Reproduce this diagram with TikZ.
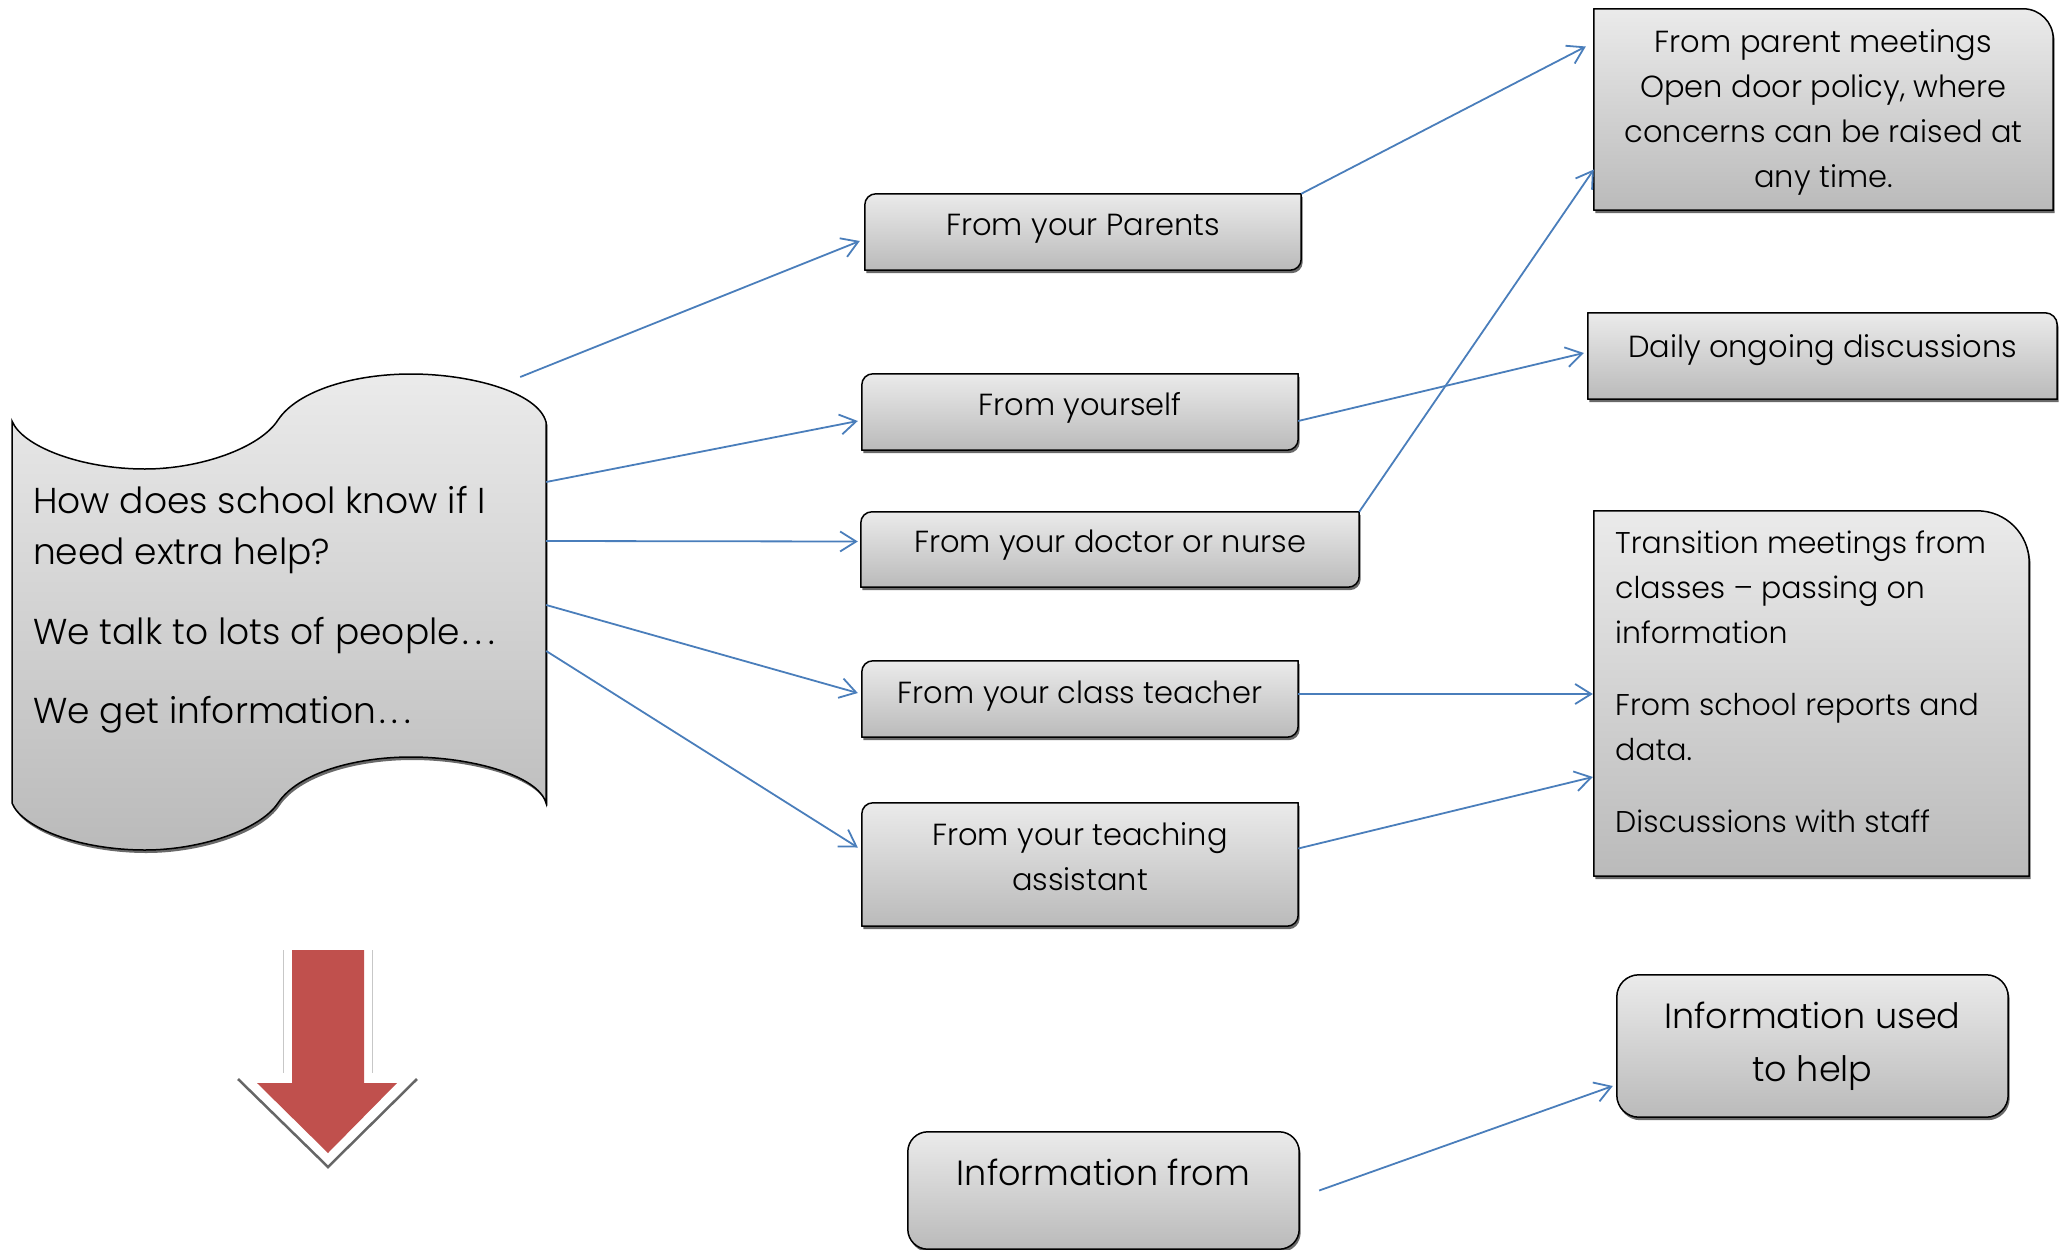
\documentclass[tikz,border=0pt]{standalone}
\usepackage{fontspec}
\IfFontExistsTF{Poppins Light}{\setmainfont{Poppins Light}}{\setmainfont{Poppins}}
\usetikzlibrary{arrows.meta,shadows,calc,backgrounds}
\definecolor{connblue}{HTML}{4A7EBB}
\definecolor{redarrow}{HTML}{C0504D}
\newcommand\spdots{\kern3pt.\kern6pt.\kern6pt.}
\tikzset{
  boxnode/.style={rectangle, inner sep=0pt},
  txt/.style={inner sep=0pt, align=center, text=black},
  boxbody/.style={draw=black, line width=1.5pt, top color=black!8, bottom color=black!27,
    drop shadow={shadow xshift=1.5pt, shadow yshift=-3pt, fill=black!65, opacity=0.9}},
  conn/.style={draw=connblue, line width=1.8pt, -{Straight Barb[length=16pt,width=20pt]}},
  boxtext/.style={font=\fontsize{30.5}{45}\selectfont},
  bigtext/.style={font=\fontsize{35}{53}\selectfont},
}
\newcommand\boxshape[5]{% node, rNW, rNE, rSE, rSW
  \path[boxbody] let \p1=(#1.south west), \p2=(#1.north east) in
    (\x1,\y1+#5) -- (\x1,\y2-#2) arc[start angle=180,end angle=90,radius=#2]
    -- (\x2-#3,\y2) arc[start angle=90,end angle=0,radius=#3]
    -- (\x2,\y1+#4) arc[start angle=0,end angle=-90,radius=#4]
    -- (\x1+#5,\y1) arc[start angle=-90,end angle=-180,radius=#5] -- cycle;
}
\begin{document}
\begin{tikzpicture}[x=1pt,y=-1pt]
\useasboundingbox (0,0) rectangle (2065,1250);

% box nodes
\node[boxnode, minimum width=534pt, minimum height=476pt] (scroll) at (279,612) {};
\node[boxnode, minimum width=436pt, minimum height=76pt] (par) at (1083,232) {};
\node[boxnode, minimum width=436pt, minimum height=76pt] (self) at (1080,412) {};
\node[boxnode, minimum width=498pt, minimum height=75pt] (doc) at (1110,549.5) {};
\node[boxnode, minimum width=436pt, minimum height=76pt] (cls) at (1080,699) {};
\node[boxnode, minimum width=436pt, minimum height=123pt] (ta) at (1080,864.5) {};
\node[boxnode, minimum width=459pt, minimum height=201pt] (pm) at (1823.5,109.5) {};
\node[boxnode, minimum width=469pt, minimum height=86pt] (daily) at (1822.5,356) {};
\node[boxnode, minimum width=435pt, minimum height=365pt] (trans) at (1811.5,693.5) {};
\node[boxnode, minimum width=391pt, minimum height=142pt] (used) at (1812.5,1046) {};
\node[boxnode, minimum width=391pt, minimum height=117pt] (from) at (1103.5,1190.5) {};

% texts
\node[anchor=north west, txt, align=left, font=\fontsize{36}{51}\selectfont] (scrolltext) at (33,486)
  {How does school know if I\\need extra help?\\[29pt]We talk to lots of people\spdots\\[28pt]We get information\spdots};
\node[txt, boxtext] (partext) at ([yshift=3pt]par) {From your Parents};
\node[txt, boxtext] (selftext) at ([yshift=4pt]self) {From yourself};
\node[txt, boxtext] (doctext) at ([yshift=4pt]doc) {From your doctor or nurse};
\node[txt, boxtext] (clstext) at ([yshift=3pt]cls) {From your class teacher};
\node[txt, boxtext] (tatext) at ([yshift=8pt]ta) {From your teaching\\assistant};
\node[txt, font=\fontsize{30.5}{45}\selectfont] (pmtext) at ([yshift=-3pt]pm)
  {From parent meetings\\Open door policy, where\\concerns can be raised at\\any time.};
\node[txt, boxtext] (dailytext) at ([yshift=6pt]daily) {Daily ongoing discussions};
\node[anchor=north west, txt, align=left, font=\fontsize{30}{45}\selectfont] (transtext) at (1615,531)
  {Transition meetings from\\classes -- passing on\\information\\[27pt]From school reports and\\data.\\[27pt]Discussions with staff};
\node[txt, bigtext] (usedtext) at (used) {Information used\\to help};
\node[txt, bigtext] (fromtext) at (1103.5,1172) {Information from};

% shapes
\begin{scope}[on background layer]
  \path[boxbody] (12,421) .. controls (22,446) and (80,469) .. (145,469)
    .. controls (200,469) and (260,448) .. (278,420)
    .. controls (298,390) and (355,374) .. (411,374)
    .. controls (470,374) and (538,392) .. (546,422)
    -- (546,803)
    .. controls (538,775) and (470,757) .. (411,757)
    .. controls (355,757) and (298,773) .. (278,803)
    .. controls (260,830) and (200,850) .. (145,850)
    .. controls (80,850) and (22,828) .. (12,803) -- cycle;
  \boxshape{par}{11pt}{0.01pt}{11pt}{0.01pt}
  \boxshape{self}{11pt}{0.01pt}{11pt}{0.01pt}
  \boxshape{doc}{11pt}{0.01pt}{11pt}{0.01pt}
  \boxshape{cls}{11pt}{0.01pt}{11pt}{0.01pt}
  \boxshape{ta}{11pt}{0.01pt}{11pt}{0.01pt}
  \boxshape{pm}{0.01pt}{30pt}{0.01pt}{0.01pt}
  \boxshape{daily}{0.01pt}{12pt}{0.01pt}{0.01pt}
  \boxshape{trans}{0.01pt}{52pt}{0.01pt}{0.01pt}
  \boxshape{used}{22pt}{22pt}{22pt}{22pt}
  \boxshape{from}{20pt}{20pt}{20pt}{20pt}
\end{scope}

% red arrow
\draw[black!22, line width=0.8pt] (283,950) -- (283,1073) (372,950) -- (372,1073);
\draw[black!60, line width=2.5pt] (238,1079) -- (328,1167) -- (417,1079);
\fill[redarrow] (292,950) -- (364,950) -- (364,1083) -- (397,1083) -- (328,1153) -- (257,1083) -- (292,1083) -- cycle;

% connectors
\draw[conn] ([shift={(-26pt,235pt)}]scroll.east) -- ([shift={(-5pt,-9pt)}]par.west);
\draw[conn] ([yshift=130pt]scroll.east) -- ([shift={(-4pt,-9pt)}]self.west);
\draw[conn] ([yshift=71pt]scroll.east) -- ([shift={(-3pt,8pt)}]doc.west);
\draw[conn] ([yshift=7pt]scroll.east) -- ([shift={(-4pt,6pt)}]cls.west);
\draw[conn] ([yshift=-39pt]scroll.east) -- ([shift={(-4pt,17pt)}]ta.west);
\draw[conn] (par.north east) -- ([shift={(-8pt,63pt)}]pm.west);
\draw[conn] (doc.north east) -- ([yshift=-60pt]pm.west);
\draw[conn] ([yshift=-9pt]self.east) -- ([shift={(-4pt,3pt)}]daily.west);
\draw[conn] ([yshift=5pt]cls.east) -- ([shift={(-1pt,5pt)}]cls.east -| trans.west);
\draw[conn] ([yshift=16pt]ta.east) -- ([shift={(-1pt,-83.5pt)}]trans.west);
\draw[conn] ([xshift=20pt]from.east) -- ([shift={(-4pt,-40pt)}]used.west);
\end{tikzpicture}
\end{document}
